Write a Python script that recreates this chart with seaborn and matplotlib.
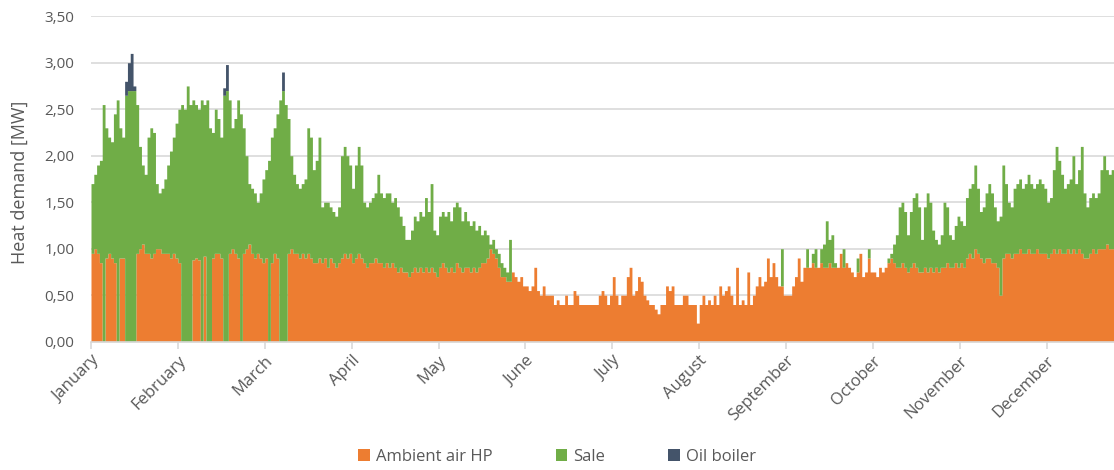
import numpy as np
import pandas as pd
import matplotlib
matplotlib.use("Agg")
import matplotlib.pyplot as plt
from matplotlib.patches import Patch
from matplotlib.ticker import FuncFormatter
import seaborn as sns

# ---- data: daily peak heat supply per source [MW], day 0 = 1 January ----
months = ["January", "February", "March", "April", "May", "June", "July",
          "August", "September", "October", "November", "December"]
sources = ["Ambient air HP", "Sale", "Oil boiler"]
source_colors = ["#ED7D31", "#70AD47", "#44546A"]

hp_mw = [
    0.95, 1.0, 0.95, 0.85, 0.0, 0.9, 0.95, 0.9, 0.85, 0.0,
    0.9, 0.9, 0.0, 0.0, 0.0, 0.0, 0.95, 1.0, 1.05, 0.95,
    0.95, 0.9, 0.95, 1.0, 1.0, 0.95, 0.95, 0.95, 0.9, 0.95,
    0.9, 0.85, 0.0, 0.0, 0.0, 0.0, 0.88, 0.9, 0.88, 0.0,
    0.92, 0.0, 0.0, 0.9, 0.95, 0.95, 0.9, 0.0, 0.0, 0.95,
    1.0, 0.95, 0.9, 0.0, 0.95, 1.0, 1.05, 0.95, 0.9, 0.95,
    0.9, 0.85, 0.9, 0.0, 0.85, 0.95, 0.9, 0.0, 0.0, 0.0,
    0.95, 1.0, 0.95, 0.95, 0.9, 0.95, 0.9, 0.95, 0.9, 0.85,
    0.85, 0.9, 0.85, 0.9, 0.8, 0.9, 0.85, 0.8, 0.85, 0.9,
    0.95, 0.9, 0.95, 0.85, 0.9, 0.95, 0.9, 0.85, 0.8, 0.85,
    0.85, 0.9, 0.85, 0.85, 0.8, 0.85, 0.8, 0.85, 0.8, 0.75,
    0.8, 0.75, 0.75, 0.7, 0.75, 0.8, 0.75, 0.8, 0.75, 0.8,
    0.75, 0.8, 0.75, 0.7, 0.8, 0.85, 0.8, 0.75, 0.8, 0.75,
    0.85, 0.8, 0.75, 0.8, 0.8, 0.75, 0.8, 0.75, 0.8, 0.85,
    0.85, 0.9, 1.0, 0.95, 0.9, 0.8, 0.7, 0.7, 0.65, 0.65,
    0.75, 0.7, 0.65, 0.7, 0.6, 0.6, 0.55, 0.6, 0.8, 0.55,
    0.5, 0.6, 0.5, 0.5, 0.5, 0.4, 0.45, 0.4, 0.4, 0.5,
    0.4, 0.4, 0.55, 0.5, 0.4, 0.4, 0.4, 0.4, 0.4, 0.4,
    0.4, 0.5, 0.55, 0.5, 0.4, 0.5, 0.7, 0.5, 0.4, 0.5,
    0.5, 0.7, 0.8, 0.5, 0.55, 0.7, 0.65, 0.5, 0.45, 0.4,
    0.4, 0.35, 0.3, 0.4, 0.4, 0.6, 0.55, 0.6, 0.4, 0.4,
    0.4, 0.5, 0.5, 0.4, 0.4, 0.4, 0.2, 0.4, 0.5, 0.4,
    0.45, 0.4, 0.5, 0.4, 0.6, 0.5, 0.55, 0.6, 0.5, 0.4,
    0.8, 0.4, 0.45, 0.4, 0.75, 0.4, 0.5, 0.6, 0.7, 0.6,
    0.65, 0.9, 0.7, 0.85, 0.7, 0.6, 0.6, 0.5, 0.5, 0.5,
    0.6, 0.7, 0.9, 0.65, 0.8, 0.8, 0.8, 0.85, 0.8, 0.8,
    0.85, 0.8, 0.8, 0.85, 0.8, 0.8, 0.8, 0.95, 0.8, 0.85,
    0.8, 0.75, 0.7, 0.75, 0.95, 0.7, 0.75, 0.9, 0.75, 0.75,
    0.7, 0.8, 0.75, 0.8, 0.85, 0.9, 0.85, 0.8, 0.8, 0.85,
    0.8, 0.75, 0.8, 0.85, 0.8, 0.75, 0.75, 0.8, 0.75, 0.8,
    0.75, 0.8, 0.75, 0.8, 0.8, 0.85, 0.8, 0.8, 0.85, 0.8,
    0.85, 0.8, 0.9, 0.95, 0.9, 1.0, 0.95, 0.9, 0.85, 0.9,
    0.9, 0.85, 0.85, 0.8, 0.5, 0.9, 0.95, 0.95, 0.9, 0.95,
    0.95, 1.0, 0.95, 0.95, 1.0, 0.95, 0.95, 1.0, 0.95, 0.95,
    0.95, 0.9, 0.95, 1.0, 0.95, 1.0, 0.95, 0.95, 1.0, 0.95,
    1.0, 0.95, 1.0, 0.95, 0.9, 0.9, 0.95, 1.0, 0.95, 1.0,
    1.0, 1.0, 1.05, 1.0, 1.0,
]

sale_mw = [
    0.75, 0.8, 0.95, 1.1, 2.55, 1.4, 1.25, 1.25, 1.6, 2.6,
    1.4, 1.3, 2.65, 2.7, 2.7, 2.7, 1.6, 1.1, 0.85, 0.85,
    1.25, 1.4, 1.3, 0.7, 0.6, 0.7, 0.8, 0.95, 1.15, 1.25,
    1.45, 1.65, 2.55, 2.5, 2.75, 2.55, 1.72, 1.65, 1.62, 2.6,
    1.63, 2.6, 2.3, 1.35, 1.55, 1.45, 1.3, 2.65, 2.7, 1.65,
    1.3, 1.45, 1.7, 2.45, 1.35, 1.0, 0.65, 0.7, 0.7, 0.55,
    0.7, 0.9, 0.95, 1.95, 1.35, 1.35, 1.55, 2.6, 2.7, 2.55,
    1.45, 1.0, 0.85, 0.75, 0.75, 0.75, 0.85, 1.35, 1.3, 1.0,
    1.1, 1.3, 0.6, 0.6, 0.7, 0.55, 0.55, 0.55, 0.6, 1.1,
    1.15, 1.1, 0.95, 0.8, 1.0, 1.15, 1.0, 0.65, 0.65, 0.65,
    0.7, 0.7, 0.95, 0.75, 0.75, 0.75, 0.8, 0.65, 0.75, 0.7,
    0.55, 0.5, 0.35, 0.4, 0.45, 0.55, 0.55, 0.6, 0.6, 0.75,
    0.65, 0.9, 0.45, 0.45, 0.55, 0.55, 0.55, 0.65, 0.5, 0.7,
    0.65, 0.65, 0.55, 0.6, 0.5, 0.5, 0.5, 0.45, 0.45, 0.3,
    0.35, 0.25, 0.05, 0.15, 0.1, 0.15, 0.15, 0.1, 0.1, 0.45,
] + [0.0] * 90 + [
    0.0, 0.0, 0.0, 0.0, 0.0, 0.0, 0.4, 0.0, 0.0, 0.0,
    0.0, 0.0, 0.0, 0.0, 0.0, 0.2, 0.0, 0.1, 0.2, 0.0,
    0.15, 0.25, 0.5, 0.25, 0.35, 0.05, 0.0, 0.0, 0.2, 0.0,
    0.0, 0.0, 0.0, 0.15, 0.0, 0.0, 0.0, 0.1, 0.0, 0.0,
    0.0, 0.0, 0.0, 0.0, 0.05, 0.05, 0.2, 0.35, 0.65, 0.65,
    0.6, 0.4, 0.6, 0.7, 0.8, 0.7, 0.35, 0.65, 0.85, 0.7,
    0.45, 0.3, 0.3, 0.35, 0.7, 0.6, 0.35, 0.3, 0.4, 0.55,
    0.45, 0.45, 0.65, 0.7, 0.8, 0.9, 0.7, 0.5, 0.6, 0.7,
    0.8, 0.75, 0.6, 0.5, 0.85, 1.0, 0.75, 0.55, 0.55, 0.7,
    0.75, 0.75, 0.7, 0.75, 0.8, 0.75, 0.7, 0.7, 0.8, 0.75,
    0.7, 0.6, 0.6, 0.85, 1.15, 0.95, 0.85, 0.7, 0.7, 0.8,
    1.0, 0.75, 0.85, 1.15, 0.7, 0.55, 0.6, 0.6, 0.6, 0.6,
    0.85, 1.0, 0.8, 0.8, 0.85,
]

# the oil boiler only runs on the coldest days
oil_days = [12, 13, 14, 15, 47, 48, 68]
oil_peak_mw = [0.15, 0.3, 0.4, 0.05, 0.08, 0.28, 0.2]

n_days = len(hp_mw)
assert len(sale_mw) == n_days == 365
oil_mw = np.zeros(n_days)
oil_mw[oil_days] = oil_peak_mw

HOURS_PER_DAY = 24
hours_in_year = n_days * HOURS_PER_DAY
hour_mid = np.arange(n_days) * HOURS_PER_DAY + HOURS_PER_DAY / 2

frames = []
for name, values in zip(sources, [hp_mw, sale_mw, oil_mw]):
    frames.append(pd.DataFrame({"hour": hour_mid, "mw": values, "source": name}))
df = pd.concat(frames, ignore_index=True)

# ---- styling ----
sns.set_theme(style="white")
plt.rcParams["font.family"] = ["Open Sans", "DejaVu Sans"]
text_color = "#595959"
grid_color = "#D9D9D9"

W, H = 1114, 470
fig = plt.figure(figsize=(W / 100, H / 100), dpi=100)
ax = fig.add_axes([91 / W, 1 - 341.7 / H, 1023 / W, 325.5 / H])

# first hue level is stacked on top, so list the sources top-down
stack_order = sources[::-1]
sns.histplot(
    data=df, x="hour", weights="mw", hue="source",
    hue_order=stack_order,
    palette=dict(zip(sources, source_colors)),
    multiple="stack", binwidth=HOURS_PER_DAY, binrange=(0, hours_in_year),
    element="step", fill=True, alpha=1, linewidth=0,
    legend=False, ax=ax,
)

ax.set_xlim(0, hours_in_year)
ax.set_ylim(0, 3.5)
ax.set_yticks(np.arange(0, 3.51, 0.5))
ax.yaxis.set_major_formatter(FuncFormatter(lambda v, _: f"{v:.2f}".replace(".", ",")))
ax.set_axisbelow(True)
ax.grid(axis="y", color=grid_color, linewidth=1.2)
ax.grid(axis="x", visible=False)

month_ticks = np.arange(len(months)) * 31 * HOURS_PER_DAY
ax.set_xticks(month_ticks)
ax.set_xticklabels(months, rotation=45, ha="right", rotation_mode="anchor")

for side in ["top", "right", "left"]:
    ax.spines[side].set_visible(False)
ax.spines["bottom"].set_color(grid_color)
ax.spines["bottom"].set_linewidth(1.2)

ax.tick_params(axis="y", length=0, pad=12, labelsize=11, labelcolor=text_color)
ax.tick_params(axis="x", length=5, width=1.2, color=grid_color, pad=3,
               labelsize=12, labelcolor=text_color, direction="out", bottom=True)

ax.set_xlabel("")
ax.set_ylabel("Heat demand [MW]", fontsize=13, color=text_color)
ax.yaxis.set_label_coords(-0.061, 0.49)

handles = [Patch(facecolor=c, edgecolor="none") for c in source_colors]
fig.legend(handles, sources, loc="center", bbox_to_anchor=(0.5, 1 - 457 / H),
           ncol=3, frameon=False, fontsize=12, labelcolor=text_color,
           handlelength=0.7, handleheight=0.7, handletextpad=0.35,
           columnspacing=3.8)

fig.savefig("out.png", dpi=100)
